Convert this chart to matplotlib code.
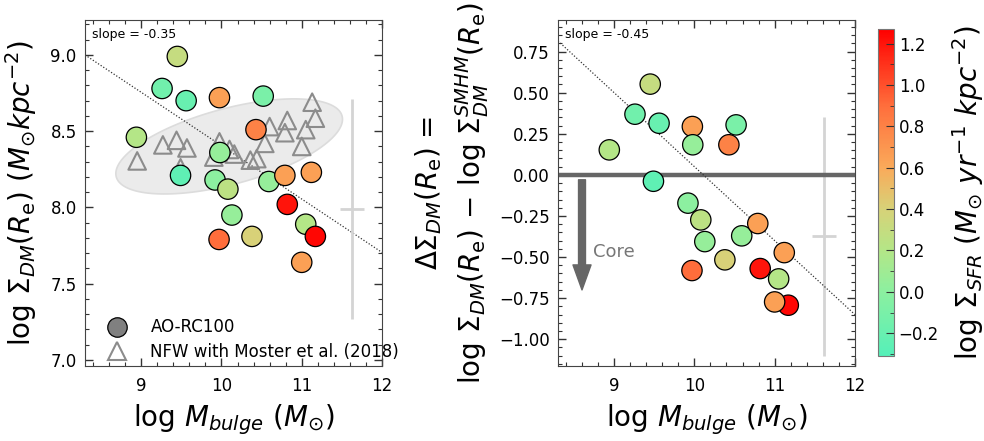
import matplotlib
matplotlib.use('Agg')
import matplotlib.pyplot as plt
import numpy as np
from matplotlib.colors import LinearSegmentedColormap, Normalize
from matplotlib.ticker import MultipleLocator
from matplotlib.lines import Line2D

# AO-RC100 galaxies
mbulge = [9.45, 9.26, 9.56, 9.975, 10.52, 8.94, 10.43, 9.98, 9.49, 9.92, 10.08,
          10.59, 10.79, 11.12, 10.82, 10.13, 11.05, 11.17, 9.97, 10.38, 11.0]
sigma_dm = [8.99, 8.78, 8.70, 8.72, 8.73, 8.46, 8.51, 8.36, 8.21, 8.18, 8.12,
            8.17, 8.21, 8.23, 8.02, 7.95, 7.89, 7.81, 7.79, 7.81, 7.64]
delta_sigma = [0.552, 0.369, 0.314, 0.294, 0.304, 0.152, 0.183, 0.183, -0.039, -0.172, -0.274,
               -0.371, -0.296, -0.473, -0.570, -0.406, -0.633, -0.793, -0.582, -0.517, -0.773]
log_sfr = [0.3, -0.15, -0.2, 0.65, -0.1, 0.2, 0.8, 0.05, -0.25, 0.0, 0.25,
           0.05, 0.65, 0.65, 1.2, 0.05, 0.2, 1.25, 0.9, 0.4, 0.65]

# NFW halos from the Moster et al. (2018) relation
mbulge_nfw = [8.95, 9.27, 9.44, 9.57, 9.49, 9.975, 10.10, 10.16, 9.905, 10.36,
              10.44, 10.54, 10.60, 10.82, 10.79, 11.13, 11.17, 11.05, 11.0]
sigma_nfw = [8.305, 8.41, 8.44, 8.39, 8.26, 8.43, 8.38, 8.35, 8.33, 8.31,
             8.32, 8.42, 8.53, 8.57, 8.49, 8.69, 8.585, 8.51, 8.40]

slope_left, icpt_left = -0.35, 8.405
slope_right, icpt_right = -0.45, 0.05

cmap = LinearSegmentedColormap.from_list('sfr', [
    (0.00, '#55f0b9'), (0.196, '#8cf0a0'), (0.323, '#b4e687'), (0.449, '#d7d278'),
    (0.576, '#faaa5a'), (0.766, '#ff6e3c'), (1.00, '#ff0000')])
norm = Normalize(vmin=-0.31, vmax=1.27)

plt.rcParams['font.family'] = 'DejaVu Sans'
plt.rcParams['mathtext.fontset'] = 'dejavusans'

fig = plt.figure(figsize=(9.84, 4.41), dpi=100)
ax1 = fig.add_axes([0.0864, 0.170, 0.3018, 0.785])
ax2 = fig.add_axes([0.567, 0.170, 0.3018, 0.785])
cax = fig.add_axes([0.892, 0.1927, 0.0163, 0.7415])

xx = np.array([8.3, 12.0])

# left panel
t = np.linspace(0, 2 * np.pi, 200)
ex = 10.096 + 1.407 * np.cos(t) - 0.119 * np.sin(t)
ey = 8.400 + 0.199 * np.cos(t) + 0.240 * np.sin(t)
ax1.fill(ex, ey, facecolor='#ebebeb', edgecolor='#dcdcdc', lw=1.2, zorder=1)
ax1.plot(xx, icpt_left + slope_left * (xx - 10), ls=(0, (1, 1.5)), color='#333333', lw=0.9, zorder=2)
ax1.scatter(mbulge_nfw, sigma_nfw, marker='^', s=160, facecolors='none',
            edgecolors='#8c8c8c', linewidths=1.5, zorder=3)
ax1.scatter(mbulge, sigma_dm, c=log_sfr, cmap=cmap, norm=norm, s=215,
            edgecolors='black', linewidths=0.9, zorder=4)
ax1.errorbar(11.63, 7.99, xerr=0.15, yerr=0.72, color='#d4d4d4', lw=2, capsize=0, zorder=2)
ax1.text(0.025, 0.975, 'slope = -0.35', transform=ax1.transAxes, fontsize=9, va='top', ha='left')
ax1.set_xlim(8.3, 12.0)
ax1.set_ylim(6.96, 9.23)
ax1.set_xlabel(r'$\log\,M_{bulge}\ (M_{\odot})$', fontsize=20, labelpad=5)
ax1.set_ylabel(r'$\log\,\Sigma_{DM}(R_{\rm e})\ (M_{\odot}kpc^{-2})$', fontsize=20, labelpad=8)
ax1.yaxis.set_major_locator(MultipleLocator(0.5))
ax1.yaxis.set_minor_locator(MultipleLocator(0.1))

handles = [Line2D([], [], marker='o', ls='none', markersize=14, markerfacecolor='#808080',
                  markeredgecolor='black', markeredgewidth=0.9),
           Line2D([], [], marker='^', ls='none', markersize=13, markerfacecolor='none',
                  markeredgecolor='#8c8c8c', markeredgewidth=1.5)]
ax1.legend(handles, ['AO-RC100', 'NFW with Moster et al. (2018)'], loc='lower left',
           bbox_to_anchor=(0.035, 0.0), frameon=False, fontsize=12, handletextpad=1.0,
           borderaxespad=0.1, labelspacing=0.4, borderpad=0.2)

# right panel
ax2.axhline(0, color='#666666', lw=3.2, zorder=2)
ax2.plot(xx, icpt_right + slope_right * (xx - 10), ls=(0, (1, 1.5)), color='#333333', lw=0.9, zorder=2)
ax2.scatter(mbulge, delta_sigma, c=log_sfr, cmap=cmap, norm=norm, s=215,
            edgecolors='black', linewidths=0.9, zorder=4)
ax2.errorbar(11.62, -0.375, xerr=0.15, yerr=0.73, color='#d4d4d4', lw=2, capsize=0, zorder=1)
ax2.annotate('', xy=(8.6, -0.70), xytext=(8.6, -0.03),
             arrowprops=dict(facecolor='#666666', edgecolor='#666666', width=5,
                             headwidth=13, headlength=18))
ax2.text(8.74, -0.47, 'Core', fontsize=13, color='#777777', va='center', ha='left')
ax2.text(0.025, 0.975, 'slope = -0.45', transform=ax2.transAxes, fontsize=9, va='top', ha='left')
ax2.set_xlim(8.3, 12.0)
ax2.set_ylim(-1.163, 0.943)
ax2.set_xlabel(r'$\log\,M_{bulge}\ (M_{\odot})$', fontsize=20, labelpad=5)
ax2.set_ylabel('$\\Delta\\Sigma_{DM}(R_{\\rm e})$ =\n'
               '$\\log\\,\\Sigma_{DM}(R_{\\rm e})\\,-\\,\\log\\,\\Sigma_{DM}^{SMHM}(R_{\\rm e})$',
               fontsize=20, labelpad=6, linespacing=1.3)
ax2.yaxis.set_major_locator(MultipleLocator(0.25))
ax2.yaxis.set_minor_locator(MultipleLocator(0.05))

for ax in (ax1, ax2):
    ax.xaxis.set_major_locator(MultipleLocator(1))
    ax.xaxis.set_minor_locator(MultipleLocator(0.2))
    ax.tick_params(which='both', direction='in', top=True, right=True, labelsize=12, color='#333333')
    ax.tick_params(which='major', length=6, width=1)
    ax.tick_params(which='minor', length=3, width=0.8)
    ax.tick_params(axis='x', which='major', pad=8)
    ax.tick_params(axis='y', which='major', pad=6)
    for sp in ax.spines.values():
        sp.set_color('#444444')

sm = plt.cm.ScalarMappable(norm=norm, cmap=cmap)
cb = fig.colorbar(sm, cax=cax)
cb.outline.set_edgecolor('#777777')
cb.set_ticks([-0.2, 0.0, 0.2, 0.4, 0.6, 0.8, 1.0, 1.2])
cb.ax.yaxis.set_minor_locator(MultipleLocator(0.1))
cb.ax.tick_params(which='both', direction='in', labelsize=12, color='#333333')
cb.ax.tick_params(which='major', length=6)
cb.ax.tick_params(which='minor', length=3)
cb.set_label(r'$\log\,\Sigma_{SFR}\ (M_{\odot}\ yr^{-1}\ kpc^{-2})$', fontsize=20, labelpad=8)

fig.savefig('out.png', dpi=100)
